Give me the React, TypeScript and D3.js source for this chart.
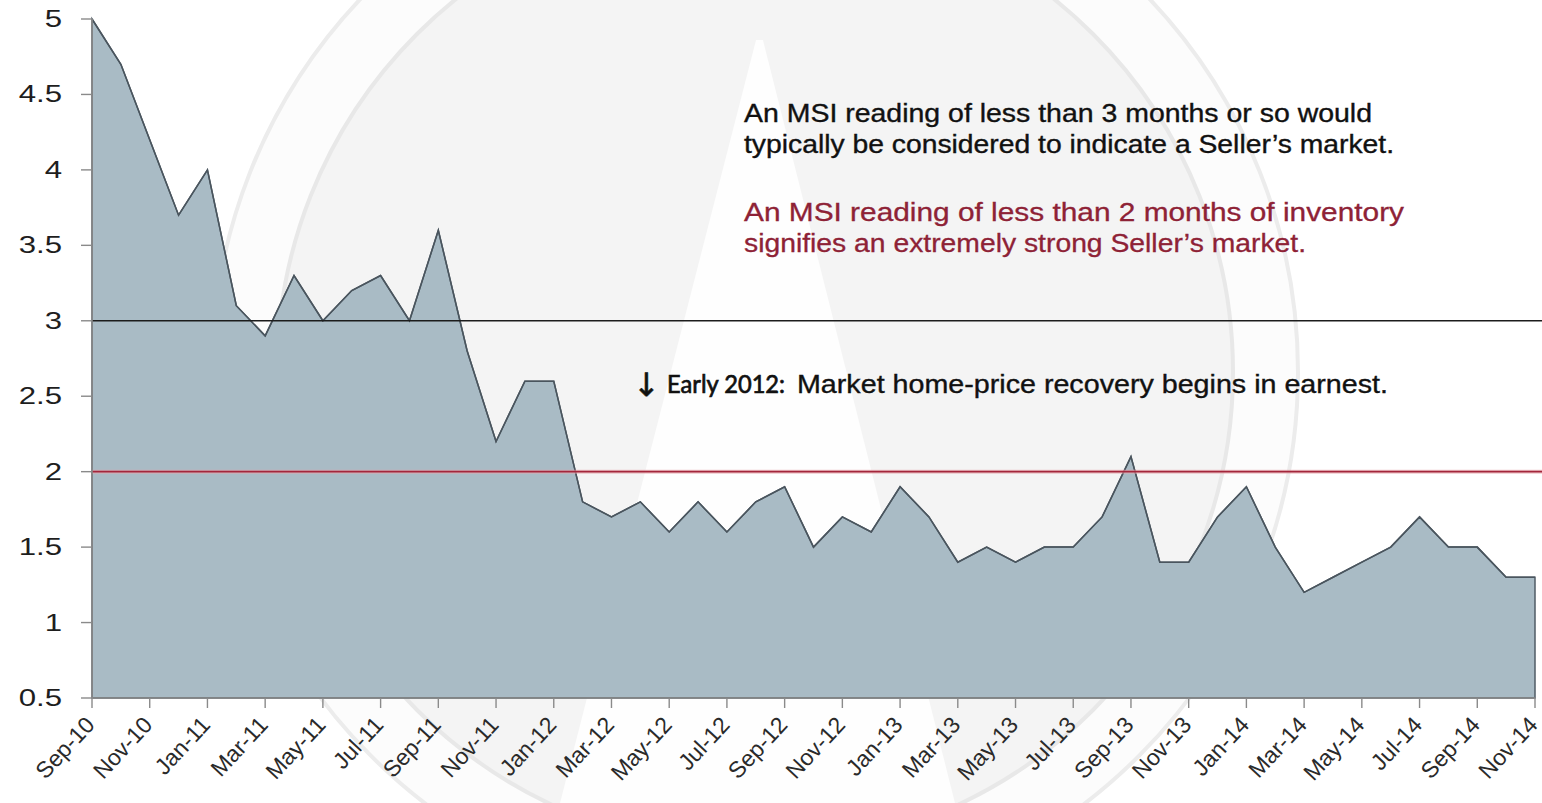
import React from "react";
import * as d3 from "d3";

const months: string[] = [
  "Sep-10","Oct-10","Nov-10","Dec-10",
  "Jan-11","Feb-11","Mar-11","Apr-11","May-11","Jun-11","Jul-11","Aug-11","Sep-11","Oct-11","Nov-11","Dec-11",
  "Jan-12","Feb-12","Mar-12","Apr-12","May-12","Jun-12","Jul-12","Aug-12","Sep-12","Oct-12","Nov-12","Dec-12",
  "Jan-13","Feb-13","Mar-13","Apr-13","May-13","Jun-13","Jul-13","Aug-13","Sep-13","Oct-13","Nov-13","Dec-13",
  "Jan-14","Feb-14","Mar-14","Apr-14","May-14","Jun-14","Jul-14","Aug-14","Sep-14","Oct-14","Nov-14",
];

const msi: number[] = [
  5.0, 4.7, 4.2, 3.7,
  4.0, 3.1, 2.9, 3.3, 3.0, 3.2, 3.3, 3.0, 3.6, 2.8, 2.2, 2.6,
  2.6, 1.8, 1.7, 1.8, 1.6, 1.8, 1.6, 1.8, 1.9, 1.5, 1.7, 1.6,
  1.9, 1.7, 1.4, 1.5, 1.4, 1.5, 1.5, 1.7, 2.1, 1.4, 1.4, 1.7,
  1.9, 1.5, 1.2, 1.3, 1.4, 1.5, 1.7, 1.5, 1.5, 1.3, 1.3,
];

const yTicks: number[] = [0.5, 1, 1.5, 2, 2.5, 3, 3.5, 4, 4.5, 5];
const xTickLabels: string[] = months.filter((_, i) => i % 2 === 0);

const sellerLevel = 3;
const strongSellerLevel = 2;

const note1: string[] = [
  "An MSI reading of less than 3 months or so would",
  "typically be considered to indicate a Seller\u2019s market.",
];
const note2: string[] = [
  "An MSI reading of less than 2 months of inventory",
  "signifies an extremely strong Seller\u2019s market.",
];
const note3Lead = "Early 2012:";
const note3Rest = "Market home-price recovery begins in earnest.";

const W = 1542;
const H = 803;
const LEFT = 92;
const RIGHT = 1535;
const TOP = 19;
const BOTTOM = 698;

export default function App() {
  const x = d3.scalePoint<string>().domain(months).range([LEFT, RIGHT]);
  const y = d3.scaleLinear().domain([0.5, 5]).range([BOTTOM, TOP]);

  const data = months.map((m, i) => ({ m, v: msi[i] }));
  const area = d3
    .area<{ m: string; v: number }>()
    .x((d) => x(d.m) as number)
    .y0(y(0.5))
    .y1((d) => y(d.v));
  const line = d3
    .line<{ m: string; v: number }>()
    .x((d) => x(d.m) as number)
    .y((d) => y(d.v));

  const font = "'Liberation Sans', Arial, 'DejaVu Sans', sans-serif";
  const cx = 755;
  const cy = 372;

  return (
    <svg
      width={W}
      height={H}
      style={{ position: "absolute", left: 0, top: 0, background: "#ffffff" }}
    >
      {/* watermark */}
      <circle cx={cx} cy={cy} r={543} fill="#fcfcfc" stroke="#ececec" strokeWidth={4} />
      <circle cx={cx} cy={cy} r={478} fill="#f4f4f4" stroke="#e8e8e8" strokeWidth={4} />
      <polygon points={`${cx + 1},40 ${cx + 8},40 ${cx + 200},${H} ${cx - 195},${H}`} fill="#ffffff" opacity={0.85} />

      {/* area */}
      <path d={area(data) as string} fill="#a9bbc5" stroke="#505c65" strokeWidth={1.5} />
      <path d={line(data) as string} fill="none" stroke="#4a555e" strokeWidth={1.5} />

      {/* reference lines */}
      <line x1={LEFT} x2={W} y1={y(sellerLevel)} y2={y(sellerLevel)} stroke="#1c1c1c" strokeWidth={1.6} />
      <line x1={LEFT} x2={W} y1={y(strongSellerLevel)} y2={y(strongSellerLevel)} stroke="#e7a7ae" strokeWidth={4} opacity={0.6} />
      <line x1={LEFT} x2={W} y1={y(strongSellerLevel)} y2={y(strongSellerLevel)} stroke="#a3263b" strokeWidth={1.8} />

      {/* axes */}
      <line x1={LEFT} x2={LEFT} y1={TOP} y2={BOTTOM} stroke="#8a8a8a" strokeWidth={1.6} />
      <line x1={LEFT} x2={RIGHT} y1={BOTTOM} y2={BOTTOM} stroke="#8a8a8a" strokeWidth={1.6} />
      {yTicks.map((t) => (
        <g key={"y" + t}>
          <line x1={LEFT - 11} x2={LEFT} y1={y(t)} y2={y(t)} stroke="#8a8a8a" strokeWidth={1.4} />
          <text
            transform={`translate(62,${y(t) + 8}) scale(1.3,1)`}
            textAnchor="end"
            fontFamily={font}
            fontSize={24}
            fill="#1e1e1e"
          >
            {String(t)}
          </text>
        </g>
      ))}
      {xTickLabels.map((m) => {
        const px = x(m) as number;
        return (
          <g key={"x" + m}>
            <line x1={px} x2={px} y1={BOTTOM} y2={BOTTOM + 10} stroke="#8a8a8a" strokeWidth={1.4} />
            <text
              transform={`translate(${px + 4},${BOTTOM + 28}) rotate(-47)`}
              textAnchor="end"
              fontFamily={font}
              fontSize={23}
              fill="#2a2a2a"
            >
              {m}
            </text>
          </g>
        );
      })}

      {/* annotations */}
      <g stroke="#111111" strokeWidth={0.35}>
        <text x={744} y={122} fontFamily={font} fontSize={25} fill="#111111" textLength={628} lengthAdjust="spacingAndGlyphs">
          {note1[0]}
        </text>
        <text x={744} y={153} fontFamily={font} fontSize={25} fill="#111111" textLength={650} lengthAdjust="spacingAndGlyphs">
          {note1[1]}
        </text>
      </g>
      <g stroke="#8e2236" strokeWidth={0.3}>
        <text x={744} y={221} fontFamily={font} fontSize={25} fill="#8e2236" textLength={660} lengthAdjust="spacingAndGlyphs">
          {note2[0]}
        </text>
        <text x={744} y={252} fontFamily={font} fontSize={25} fill="#8e2236" textLength={562} lengthAdjust="spacingAndGlyphs">
          {note2[1]}
        </text>
      </g>

      <text x={633} y={396} fontFamily="'DejaVu Sans', sans-serif" fontSize={32} fill="#111111" stroke="#111111" strokeWidth={0.6}>
        {"\u2193"}
      </text>
      <text x={667} y={393} fontFamily="Lato, 'Open Sans', sans-serif" fontSize={25} fill="#111111" stroke="#111111" strokeWidth={0.7} textLength={118} lengthAdjust="spacingAndGlyphs">
        {note3Lead}
      </text>
      <text x={797} y={393} fontFamily={font} fontSize={25} fill="#111111" stroke="#111111" strokeWidth={0.35} textLength={591} lengthAdjust="spacingAndGlyphs">
        {note3Rest}
      </text>
    </svg>
  );
}
